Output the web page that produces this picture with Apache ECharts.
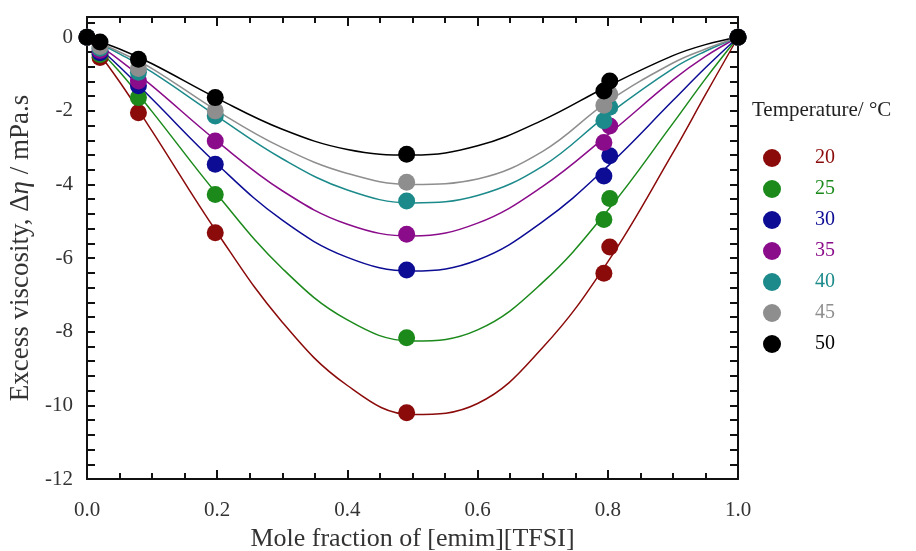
<!DOCTYPE html>
<html>
<head>
<meta charset="utf-8">
<script src="https://cdn.jsdelivr.net/npm/echarts@6/dist/echarts.min.js"></script>
<style>
  html, body { margin: 0; padding: 0; background: #fff; }
  #chart { width: 916px; height: 551px; }
</style>
</head>
<body>
<div id="chart"></div>
<script>
// measured points (mole fraction of [emim][TFSI])
var xMeasured = [0, 0.02, 0.079, 0.197, 0.491, 0.794, 0.803, 1.0];
var eta20 = [0, -0.55, -2.05, -5.31, -10.2, -6.41, -5.7, 0];
var eta25 = [0, -0.47, -1.64, -4.27, -8.16, -4.95, -4.38, 0];
var eta30 = [0, -0.42, -1.32, -3.45, -6.32, -3.77, -3.22, 0];
var eta35 = [0, -0.36, -1.19, -2.82, -5.35, -2.86, -2.41, 0];
var eta40 = [0, -0.3, -0.95, -2.14, -4.45, -2.27, -1.9, 0];
var eta45 = [0, -0.25, -0.85, -2.0, -3.94, -1.85, -1.55, 0];
var eta50 = [0, -0.13, -0.6, -1.64, -3.18, -1.46, -1.19, 0];

// fitted curves
var xFit = [0, 0.05, 0.1, 0.2, 0.3, 0.4, 0.5, 0.6, 0.7, 0.8, 0.9, 0.95, 1.0];
var fit20 = [0, -1.21, -2.55, -5.31, -7.74, -9.46, -10.25, -9.95, -8.43, -6.1, -3.14, -1.56, 0];
var fit25 = [0, -0.94, -2.02, -4.27, -6.28, -7.68, -8.25, -7.95, -6.66, -4.7, -2.34, -1.13, 0];
var fit30 = [0, -0.8, -1.68, -3.45, -4.97, -5.98, -6.35, -6.05, -5.01, -3.5, -1.72, -0.83, 0];
var fit35 = [0, -0.62, -1.32, -2.83, -4.17, -5.08, -5.4, -5.05, -4.05, -2.65, -1.16, -0.52, 0];
var fit40 = [0, -0.45, -0.95, -2.15, -3.3, -4.15, -4.5, -4.3, -3.5, -2.1, -0.85, -0.38, 0];
var fit45 = [0, -0.4, -0.85, -2.0, -3.0, -3.7, -4.0, -3.85, -3.1, -1.75, -0.7, -0.32, 0];
var fit50 = [0, -0.32, -0.72, -1.66, -2.5, -3.05, -3.2, -2.95, -2.25, -1.33, -0.5, -0.2, 0];

var temps = ["20", "25", "30", "35", "40", "45", "50"];
var colors = ["#8b0a0a", "#1b8a1b", "#0c0c94", "#8a0c8a", "#1c8a8a", "#8e8e8e", "#000000"];
var measured = [eta20, eta25, eta30, eta35, eta40, eta45, eta50];
var fits = [fit20, fit25, fit30, fit35, fit40, fit45, fit50];

var yTickLabels = [-12, -10, -8, -6, -4, -2, 0];

var FONT = "Liberation Serif";

function pairs(xs, ys) {
  return xs.map(function (x, i) {
    return [x, ys[i]];
  });
}

// y ticks every 0.4
var yTicks = [];
for (var k = 0; k <= 31; k++) {
  yTicks.push(Math.round((-12 + k * 0.4) * 10) / 10);
}

var series = [];
temps.forEach(function (t, i) {
  series.push({
    name: t + " fit",
    type: "line",
    data: pairs(xFit, fits[i]),
    smooth: 0.4,
    showSymbol: false,
    lineStyle: { color: colors[i], width: 1.5 },
    z: 2 + i,
  });
});
temps.forEach(function (t, i) {
  series.push({
    name: t,
    type: "scatter",
    data: pairs(xMeasured, measured[i]),
    symbol: "circle",
    symbolSize: 17,
    itemStyle: { color: colors[i], opacity: 1 },
    clip: false,
    z: 10 + i,
  });
});

var chart = echarts.init(document.getElementById("chart"));

var axisLine = { show: true, onZero: false, lineStyle: { color: "#111", width: 2 } };
var tickStyle = { color: "#111", width: 2 };

chart.setOption({
  animation: false,
  backgroundColor: "#fff",
  title: {
    text: "Temperature/ °C",
    left: 747,
    top: 95,
    textStyle: { fontFamily: FONT, fontSize: 21, fontWeight: "normal", color: "#222" },
  },
  legend: {
    orient: "vertical",
    left: 758,
    top: 143,
    itemWidth: 18,
    itemHeight: 18,
    itemGap: 11,
    icon: "circle",
    data: temps.map(function (t, i) {
      return { name: t, textStyle: { color: colors[i] } };
    }),
    textStyle: { fontFamily: FONT, fontSize: 20, padding: [0, 0, 0, 29] },
    selectedMode: false,
  },
  grid: { left: 87, right: 178, top: 17, bottom: 72, outerBoundsMode: "none" },
  xAxis: [
    {
      type: "value",
      min: 0,
      max: 1,
      interval: 0.2,
      axisLine: axisLine,
      axisTick: { inside: true, length: 9, lineStyle: tickStyle },
      minorTick: { show: true, splitNumber: 4, length: 6, lineStyle: tickStyle },
      splitLine: { show: false },
      axisLabel: {
        margin: 21,
        fontFamily: FONT,
        fontSize: 21,
        color: "#333",
        formatter: function (v) {
          return v.toFixed(1);
        },
      },
      name: "Mole fraction of [emim][TFSI]",
      nameLocation: "middle",
      nameGap: 47,
      nameTextStyle: { fontFamily: FONT, fontSize: 26, color: "#333" },
    },
    {
      type: "value",
      position: "top",
      min: 0,
      max: 1,
      interval: 0.2,
      axisLine: axisLine,
      axisTick: { inside: true, length: 9, lineStyle: tickStyle },
      minorTick: { show: true, splitNumber: 4, length: 6, lineStyle: tickStyle },
      splitLine: { show: false },
      axisLabel: { show: false },
    },
  ],
  yAxis: [
    {
      type: "value",
      min: -12,
      max: 0.55,
      interval: 2,
      axisLine: axisLine,
      axisTick: { inside: true, length: 8, customValues: yTicks, lineStyle: tickStyle },
      splitLine: { show: false },
      axisLabel: {
        margin: 14,
        fontFamily: FONT,
        fontSize: 21,
        color: "#333",
        customValues: yTickLabels,
      },
      name: "{n|Excess viscosity, Δ}{i|η}{n| / mPa.s}",
      nameLocation: "middle",
      nameGap: 50,
      nameRotate: 90,
      nameTextStyle: {
        rich: {
          n: { fontFamily: FONT, fontSize: 27, color: "#333" },
          i: { fontFamily: FONT, fontSize: 27, color: "#333", fontStyle: "italic" },
        },
      },
    },
    {
      type: "value",
      position: "right",
      min: -12,
      max: 0.55,
      interval: 2,
      axisLine: axisLine,
      axisTick: { inside: true, length: 8, customValues: yTicks, lineStyle: tickStyle },
      splitLine: { show: false },
      axisLabel: { show: false },
    },
  ],
  series: series,
});
</script>
</body>
</html>
